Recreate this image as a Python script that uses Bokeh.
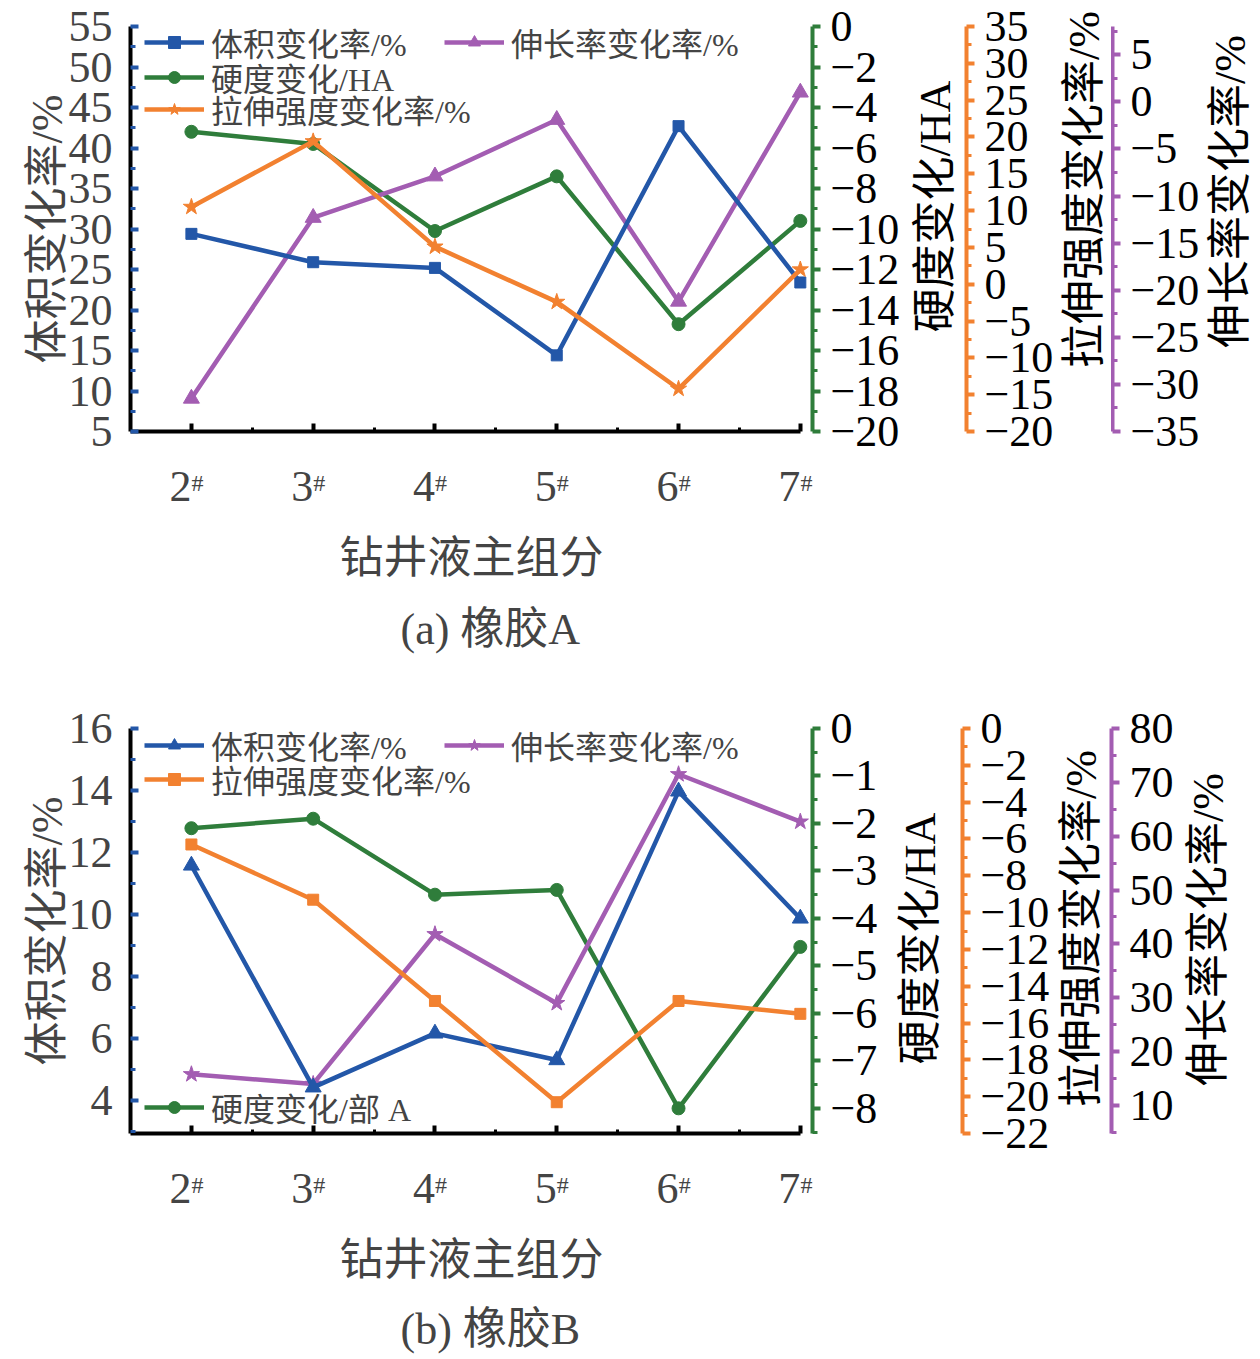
from bokeh.plotting import figure
from bokeh.models import (Range1d, LinearAxis, FixedTicker, Legend, LegendItem,
                          ColumnDataSource, Title, CustomJSTickFormatter)
from bokeh.layouts import column, row
from bokeh.embed import file_html
from bokeh.resources import INLINE

FONT = "Liberation Serif, Noto Sans CJK SC"

# ---------------- data ----------------
groups = [2, 3, 4, 5, 6, 7]
group_labels = ["2\u2002", "3\u2002", "4\u2002", "5\u2002", "6\u2002", "7\u2002"]
group_sup = "#"

# (a) rubber A
a_volume = [29.4, 25.9, 25.2, 14.4, 42.7, 23.4]
a_hardness = [-5.2, -5.8, -10.1, -7.4, -14.7, -9.6]
a_tensile = [10.5, 19.4, 5.1, -2.4, -14.2, 2.0]
a_elong = [-31.5, -12.3, -7.9, -1.9, -21.2, 1.0]

# (b) rubber B
b_volume = [11.58, 4.42, 6.16, 5.3, 13.97, 9.87]
b_hardness = [-2.1, -1.9, -3.5, -3.4, -8.0, -4.6]
b_tensile = [-6.3, -9.3, -14.8, -20.3, -14.8, -15.5]
b_elong = [15.8, 14.0, 41.8, 29.0, 71.5, 62.7]

BLUE = "#2357a8"
GREEN = "#2f7d3b"
ORANGE = "#f28130"
PURPLE = "#a35db2"

TOP = 26
FH = 405


def minus_fmt():
    return CustomJSTickFormatter(code="return String(tick).replace('-', '\\u2212');")


def style_right_axis(ax, color):
    ax.axis_line_color = color
    ax.axis_line_width = 4
    ax.major_tick_line_color = color
    ax.major_tick_line_width = 4
    ax.minor_tick_line_color = color
    ax.minor_tick_line_width = 3
    ax.major_tick_in = 0
    ax.major_tick_out = 8
    ax.minor_tick_in = 0
    ax.minor_tick_out = 5
    ax.major_label_standoff = 10
    ax.major_label_text_font = FONT
    ax.major_label_text_font_size = "44px"
    ax.major_label_text_color = "black"
    ax.formatter = minus_fmt()


def bare(f):
    f.outline_line_color = None
    f.grid.visible = False
    return f


def axis_fig(rng, ticks, minor, color, left_border, right_border):
    f = bare(figure(frame_width=1, frame_height=FH, x_range=Range1d(0, 1), y_range=rng,
                    y_axis_location="right", x_axis_location=None,
                    output_backend="svg", toolbar_location=None,
                    min_border_left=left_border, min_border_right=right_border,
                    min_border_top=TOP, min_border_bottom=40))
    ax = f.yaxis[0]
    ax.ticker = FixedTicker(ticks=ticks, minor_ticks=minor)
    style_right_axis(ax, color)
    return f


def label_fig(text, center_rel, left_border, standoff):
    f = bare(figure(frame_width=1, frame_height=int(round(2 * center_rel)),
                    x_range=Range1d(0, 1), y_range=Range1d(0, 1),
                    x_axis_location=None, output_backend="svg", toolbar_location=None,
                    min_border_left=left_border, min_border_right=0,
                    min_border_top=TOP, min_border_bottom=80))
    ax = f.yaxis[0]
    ax.ticker = FixedTicker(ticks=[])
    ax.axis_line_color = None
    ax.major_tick_line_color = None
    ax.minor_tick_line_color = None
    ax.major_tick_out = 0
    ax.major_tick_in = 0
    ax.minor_tick_out = 0
    ax.major_label_standoff = 0
    ax.axis_label = text
    ax.axis_label_text_font = FONT
    ax.axis_label_text_font_size = "44px"
    ax.axis_label_text_font_style = "normal"
    ax.axis_label_text_color = "black"
    ax.axis_label_standoff = standoff
    return f


def build(left_range, left_ticks, left_minor, ranges, green_spec, series, legends,
          caption, bottom_border, title_standoff, right_border):
    p = bare(figure(frame_width=682, frame_height=FH,
                    x_range=Range1d(1.5, 7.1), y_range=Range1d(*left_range),
                    output_backend="svg", toolbar_location=None,
                    min_border_left=130, min_border_top=TOP, min_border_right=right_border,
                    min_border_bottom=bottom_border))
    p.background_fill_color = "white"

    # x axis (numbers)
    xa = p.xaxis[0]
    xa.bounds = (1.5, 7.0)
    xa.ticker = FixedTicker(ticks=groups, minor_ticks=[g + 0.5 for g in groups[:-1]])
    xa.major_label_overrides = {g: lab for g, lab in zip(groups, group_labels)}
    xa.axis_line_color = "black"
    xa.axis_line_width = 4
    xa.major_tick_line_color = "black"
    xa.major_tick_line_width = 4
    xa.minor_tick_line_color = "black"
    xa.minor_tick_line_width = 3
    xa.major_tick_in = 8
    xa.major_tick_out = 0
    xa.minor_tick_in = 4
    xa.minor_tick_out = 0
    xa.major_label_standoff = 30
    xa.major_label_text_font = FONT
    xa.major_label_text_font_size = "44px"

    # second x axis: superscript '#' marks and the axis title
    xs = LinearAxis(ticker=FixedTicker(ticks=[g + 0.05 for g in groups]),
                    formatter=CustomJSTickFormatter(code="return '%s';" % group_sup))
    xs.axis_line_color = None
    xs.major_tick_line_color = None
    xs.minor_tick_line_color = None
    xs.major_tick_in = 0
    xs.major_tick_out = 0
    xs.major_label_standoff = -44
    xs.major_label_text_font = FONT
    xs.major_label_text_font_size = "24px"
    xs.axis_label = "钻井液主组分"
    xs.axis_label_text_font = FONT
    xs.axis_label_text_font_size = "44px"
    xs.axis_label_text_font_style = "normal"
    xs.axis_label_standoff = 35
    p.add_layout(xs, "below")

    # left axis
    ya = p.yaxis[0]
    ya.ticker = FixedTicker(ticks=left_ticks, minor_ticks=left_minor)
    ya.axis_line_color = "black"
    ya.axis_line_width = 4
    ya.major_tick_line_color = BLUE
    ya.major_tick_line_width = 4
    ya.minor_tick_line_color = BLUE
    ya.minor_tick_line_width = 3
    ya.major_tick_in = 8
    ya.major_tick_out = 0
    ya.minor_tick_in = 5
    ya.minor_tick_out = 0
    ya.major_label_standoff = 18
    ya.major_label_text_font = FONT
    ya.major_label_text_font_size = "44px"
    ya.axis_label = "体积变化率/%"
    ya.axis_label_text_font = FONT
    ya.axis_label_text_font_size = "44px"
    ya.axis_label_text_font_style = "normal"
    ya.axis_label_standoff = -6
    ya.formatter = minus_fmt()

    # right (green) axis of the main plot; other ranges shared with side panels
    p.extra_y_ranges = ranges
    gticks, gminor = green_spec
    ga = LinearAxis(y_range_name="g", ticker=FixedTicker(ticks=gticks, minor_ticks=gminor))
    style_right_axis(ga, GREEN)
    p.add_layout(ga, "right")

    # series
    rend = {}
    for key, vals, color, marker, msize, yname in series:
        kw = {} if yname is None else {"y_range_name": yname}
        src = ColumnDataSource(dict(x=groups, y=vals))
        l = p.line("x", "y", source=src, line_color=color, line_width=4.5, **kw)
        m = p.scatter("x", "y", source=src, marker=marker, size=msize,
                      fill_color=color, line_color=color, **kw)
        rend[key] = [l, m]

    for key, lab, loc in legends:
        lg = Legend(items=[LegendItem(label=lab, renderers=rend[key])], location=loc,
                    background_fill_alpha=0, border_line_color=None,
                    label_text_font=FONT, label_text_font_size="32px",
                    glyph_width=60, glyph_height=30, label_height=30,
                    label_standoff=7, spacing=0, padding=5, margin=0)
        p.add_layout(lg)

    t = Title(text=caption, align="left", text_font=FONT, text_font_size="44px",
              text_font_style="normal", standoff=title_standoff, offset=270)
    p.add_layout(t, "below")
    return p


# ---------------- chart (a) ----------------
rA = {"g": Range1d(-20, 0), "o": Range1d(-20, 35), "pu": Range1d(-35, 8)}
pA = build(
    left_range=(5, 55),
    left_ticks=list(range(5, 56, 5)),
    left_minor=[v + 2.5 for v in range(5, 55, 5)],
    ranges=rA,
    green_spec=(list(range(-20, 1, 2)), list(range(-19, 0, 2))),
    series=[
        ("hard", a_hardness, GREEN, "circle", 13, "g"),
        ("elong", a_elong, PURPLE, "triangle", 16, "pu"),
        ("vol", a_volume, BLUE, "square", 11, None),
        ("ten", a_tensile, ORANGE, "star", 17, "o"),
    ],
    legends=[
        ("vol", "体积变化率/%", (14, 366)),
        ("hard", "硬度变化/HA", (14, 331)),
        ("ten", "拉伸强度变化率/%", (14, 299)),
        ("elong", "伸长率变化率/%", (314, 366)),
    ],
    caption="(a) 橡胶A",
    bottom_border=271,
    title_standoff=35,
    right_border=91,
)
rowA = row(
    pA,
    label_fig("硬度变化/HA", 180, 56, 0),
    axis_fig(rA["o"], list(range(-20, 36, 5)), [v + 2.5 for v in range(-20, 35, 5)], ORANGE, 5, 0),
    label_fig("拉伸强度变化率/%", 163, 50, 2),
    axis_fig(rA["pu"], list(range(-35, 6, 5)), [v + 2.5 for v in range(-35, 8, 5)], PURPLE, 0, 0),
    label_fig("伸长率变化率/%", 165, 51, 0),
    spacing=0,
)

# ---------------- chart (b) ----------------
rB = {"g": Range1d(-8.53, 0), "o": Range1d(-22, 0), "pu": Range1d(4.8, 80)}
pB = build(
    left_range=(2.93, 16),
    left_ticks=list(range(4, 17, 2)),
    left_minor=list(range(3, 16, 2)),
    ranges=rB,
    green_spec=(list(range(-8, 1, 1)), [v + 0.5 for v in range(-9, 0)]),
    series=[
        ("hard", b_hardness, GREEN, "circle", 13, "g"),
        ("elong", b_elong, PURPLE, "star", 17, "pu"),
        ("vol", b_volume, BLUE, "triangle", 16, None),
        ("ten", b_tensile, ORANGE, "square", 11, "o"),
    ],
    legends=[
        ("vol", "体积变化率/%", (14, 365)),
        ("ten", "拉伸强度变化率/%", (14, 331)),
        ("elong", "伸长率变化率/%", (314, 365)),
        ("hard", "硬度变化/部 A", (14, 3)),
    ],
    caption="(b) 橡胶B",
    bottom_border=200,
    title_standoff=31,
    right_border=68,
)
rowB = row(
    pB,
    label_fig("硬度变化/HA", 210, 64, 0),
    axis_fig(rB["o"], list(range(-22, 1, 2)), list(range(-21, 0, 2)), ORANGE, 16, 91),
    label_fig("拉伸强度变化率/%", 200, 53, 2),
    axis_fig(rB["pu"], list(range(10, 81, 10)), list(range(5, 80, 10)), PURPLE, 2, 66),
    label_fig("伸长率变化率/%", 201, 55, 0),
    spacing=0,
)

layout = column(rowA, rowB, spacing=0)
open("out.html", "w").write(file_html(layout, INLINE))
